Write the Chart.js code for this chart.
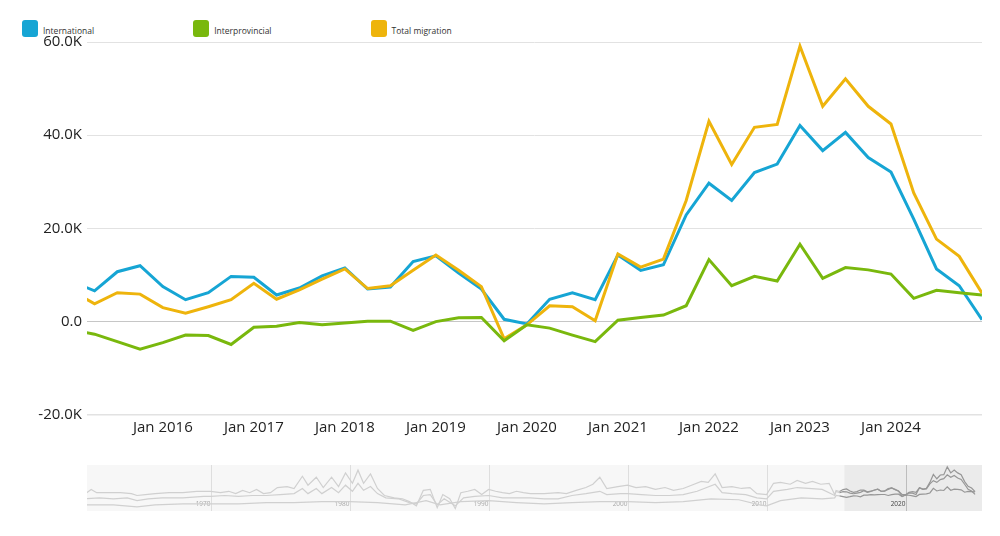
<!DOCTYPE html>
<html>
<head>
<meta charset="utf-8">
<script src="https://cdn.jsdelivr.net/npm/chart.js@4.4.1/dist/chart.umd.min.js"></script>
<style>
  html, body { margin: 0; padding: 0; background: #fff; }
  body { width: 1000px; height: 536px; position: relative; overflow: hidden; font-family: "Open Sans", sans-serif; }
  #legend { position: absolute; left: 22px; top: 20px; display: flex; align-items: flex-start; }
  .item { display: flex; align-items: flex-start; margin-right: 99px; }
  .swatch { width: 16px; height: 17px; border-radius: 3px; }
  .item span { font-size: 8.5px; color: #333; margin-left: 5px; margin-top: 5px; white-space: nowrap; }
  #main { position: absolute; left: 0; top: 0; width: 1000px; height: 450px; }
  #nav { position: absolute; left: 87px; top: 465px; width: 895px; height: 46px; }
</style>
</head>
<body>
<div id="legend"></div>
<div id="main"><canvas id="mainCanvas"></canvas></div>
<div id="nav"><canvas id="navCanvas"></canvas></div>
<script>
// quarters shown in the main view (Jan 2015 sits just left of the visible area)
const periods = [
  "2015-01", "2015-04", "2015-07", "2015-10",
  "2016-01", "2016-04", "2016-07", "2016-10",
  "2017-01", "2017-04", "2017-07", "2017-10",
  "2018-01", "2018-04", "2018-07", "2018-10",
  "2019-01", "2019-04", "2019-07", "2019-10",
  "2020-01", "2020-04", "2020-07", "2020-10",
  "2021-01", "2021-04", "2021-07", "2021-10",
  "2022-01", "2022-04", "2022-07", "2022-10",
  "2023-01", "2023-04", "2023-07", "2023-10",
  "2024-01", "2024-04", "2024-07", "2024-10",
  "2025-01"
];

// values in thousands
const international = [
  8.6, 6.6, 10.7, 12.0,
  7.5, 4.7, 6.2, 9.7,
  9.5, 5.7, 7.2, 9.8,
  11.5, 7.0, 7.4, 12.9,
  14.1, 10.4, 7.0, 0.5,
  -0.5, 4.8, 6.2, 4.7,
  14.3, 11.0, 12.2, 22.9,
  29.7, 26.0, 32.0, 33.8,
  42.1, 36.7, 40.6, 35.2,
  32.1, 22.0, 11.3, 7.7,
  0.4
];
const interprovincial = [
  -1.8, -2.7, -4.3, -5.9,
  -4.5, -2.9, -3.0, -4.9,
  -1.2, -1.0, -0.2, -0.7,
  -0.3, 0.1, 0.1, -1.9,
  0.0, 0.8, 0.9, -4.1,
  -0.7, -1.4, -2.9, -4.3,
  0.3, 0.9, 1.4, 3.4,
  13.3, 7.7, 9.7, 8.7,
  16.6, 9.3, 11.6, 11.1,
  10.2, 5.0, 6.7, 6.2,
  5.7
];
const totalMigration = [
  6.7, 3.8, 6.2, 5.9,
  3.0, 1.8, 3.2, 4.7,
  8.2, 4.8, 6.8, 9.1,
  11.3, 7.1, 7.7, 11.0,
  14.3, 11.0, 7.5, -3.7,
  -0.7, 3.4, 3.2, 0.2,
  14.5, 11.7, 13.4, 26.0,
  43.0, 33.7, 41.7, 42.3,
  59.1, 46.2, 52.1, 46.2,
  42.4, 27.6, 17.7, 14.0,
  6.1
];

const seriesNames = ["International", "Interprovincial", "Total migration"];
const seriesColors = ["#16a5d4", "#79b80d", "#eeb40c"];
const tickYears = [2016, 2017, 2018, 2019, 2020, 2021, 2022, 2023, 2024];
const yTicks = [-20, 0, 20, 40, 60];

// overview strip: earlier history, [year, value in thousands]
const navHistTotal = [
  [1961.0, 2], [1961.4, 11], [1961.8, 4], [1962.5, 4], [1963.5, 4], [1964.3, 2], [1964.7, -2],
  [1965.3, 0], [1966.0, 2], [1967.0, 4], [1968.0, 4], [1969.0, 7], [1970.0, 7], [1970.7, 4],
  [1971.3, 7], [1971.8, 2], [1972.3, 9], [1972.8, 4], [1973.3, 11], [1973.8, 2], [1974.3, 4],
  [1974.8, 15], [1975.5, 17], [1976.0, 13], [1976.6, 39], [1977.0, 20], [1977.6, 37], [1978.1, 15],
  [1978.7, 37], [1979.2, 17], [1979.7, 46], [1980.2, 24], [1980.6, 52], [1981.0, 24], [1981.5, 44],
  [1982.0, 13], [1982.5, -2], [1983.2, -7], [1983.8, -9], [1984.3, -15], [1984.8, -24], [1985.3, 9],
  [1985.8, 11], [1986.3, -28], [1986.7, 0], [1987.2, -9], [1987.6, -30], [1988.0, 4], [1988.5, 7],
  [1989.0, 11], [1989.5, 0], [1990.0, 11], [1990.5, 7], [1991.0, 4], [1991.5, 2], [1992.0, 7],
  [1992.5, 4], [1993.0, 2], [1994.0, 2], [1995.0, 4], [1995.6, 2], [1996.3, 9], [1997.0, 15],
  [1997.5, 22], [1998.0, 37], [1998.5, 13], [1999.3, 17], [2000.0, 20], [2000.6, 15], [2001.3, 17],
  [2002.0, 11], [2002.7, 15], [2003.3, 9], [2004.0, 13], [2004.6, 20], [2005.3, 28], [2005.8, 26],
  [2006.3, 44], [2006.8, 15], [2007.5, 17], [2008.2, 13], [2008.8, 15], [2009.3, 2], [2010.0, 0],
  [2010.5, 24], [2011.0, 26], [2011.7, 22], [2012.2, 30], [2012.8, 24], [2013.3, 28], [2013.9, 22],
  [2014.5, 24], [2014.9, 0]
];
const navHistInternational = [
  [1961.0, -9], [1962.0, -7], [1963.0, -9], [1964.0, -7], [1964.7, -13], [1965.5, -9], [1966.5, -7],
  [1968.0, -7], [1969.5, -4], [1970.0, -4], [1971.0, -2], [1972.0, -4], [1973.0, -2], [1974.0, -2],
  [1975.0, 0], [1976.0, 2], [1976.6, 13], [1977.0, 2], [1977.6, 13], [1978.0, 2], [1978.7, 15],
  [1979.2, 4], [1979.7, 20], [1980.2, 7], [1980.6, 24], [1981.0, 9], [1981.5, 17], [1982.0, 2],
  [1982.6, -7], [1983.5, -9], [1984.3, -17], [1984.8, -20], [1985.3, -2], [1985.8, 0], [1986.3, -22],
  [1986.8, -9], [1987.6, -24], [1988.2, -7], [1989.0, -4], [1990.0, -2], [1991.0, -7], [1992.0, -7],
  [1993.0, -7], [1994.0, -9], [1995.0, -9], [1996.0, -2], [1997.0, 2], [1998.0, 7], [1998.5, 0],
  [1999.5, 2], [2000.0, 2], [2001.0, 0], [2002.0, -2], [2003.0, -2], [2004.0, 0], [2005.0, 7],
  [2006.3, 22], [2006.8, 4], [2007.5, 2], [2008.5, 0], [2009.3, -7], [2010.0, -9], [2010.5, 7],
  [2011.5, 11], [2012.2, 15], [2013.0, 13], [2014.0, 11], [2014.9, -2]
];
const navHistInterprovincial = [
  [1961.0, -22], [1963.0, -22], [1964.7, -26], [1966.0, -22], [1968.0, -20], [1970.0, -20],
  [1972.0, -20], [1974.0, -17], [1976.0, -17], [1978.0, -15], [1980.0, -15], [1982.0, -17],
  [1984.0, -22], [1985.5, -13], [1986.5, -22], [1988.0, -15], [1990.0, -13], [1992.0, -17],
  [1994.0, -20], [1996.0, -17], [1998.0, -15], [2000.0, -15], [2002.0, -17], [2004.0, -15],
  [2006.0, -9], [2008.0, -11], [2009.5, -22], [2010.0, -24], [2011.0, -13], [2012.5, -7],
  [2014.0, -9], [2014.9, -7]
];
const navTickYears = [1970, 1980, 1990, 2000, 2010, 2020];
const navSelStart = 2015.6;

// "2015-04" -> 2015.25
function toYear(p) {
  const [y, m] = p.split("-").map(Number);
  return y + (m - 1) / 12;
}
const periodYears = periods.map(toYear);

// legend
const legendEl = document.getElementById("legend");
let legendHTML = "";
seriesNames.forEach((name, i) => {
  legendHTML += `<div class="item"><div class="swatch" style="background:${seriesColors[i]}"></div><span>${name}</span></div>`;
});
legendEl.innerHTML = legendHTML;

const mainValues = [international, interprovincial, totalMigration];
const drawOrder = [2, 0, 1]; // green on top, blue underneath

const mainChart = new Chart(document.getElementById("mainCanvas"), {
  type: "line",
  data: {
    datasets: mainValues.map((vals, i) => ({
      label: seriesNames[i],
      data: periodYears.map((x, j) => ({ x: x, y: vals[j] })),
      borderColor: seriesColors[i],
      backgroundColor: seriesColors[i],
      borderWidth: 3,
      order: drawOrder[i],
      fill: false
    }))
  },
  options: {
    responsive: true,
    maintainAspectRatio: false,
    animation: false,
    layout: { padding: { top: 42, right: 18, left: 0, bottom: 0 } },
    elements: { point: { radius: 0 }, line: { tension: 0 } },
    plugins: { legend: { display: false }, tooltip: { enabled: false } },
    scales: {
      x: {
        type: "linear",
        min: 2015.167,
        max: 2025,
        grid: { display: false, drawTicks: false },
        border: { display: false },
        afterBuildTicks: scale => { scale.ticks = tickYears.map(v => ({ value: v })); },
        afterFit: scale => { scale.height = 35.2; },
        ticks: {
          autoSkip: false,
          maxRotation: 0,
          padding: 4,
          color: "#222",
          font: { family: "Open Sans", size: 15 },
          callback: v => "Jan " + v
        }
      },
      y: {
        min: -20,
        max: 60,
        afterBuildTicks: scale => { scale.ticks = yTicks.map(v => ({ value: v })); },
        afterFit: scale => { scale.width = 87; },
        grid: {
          drawTicks: false,
          color: c => (c.tick && c.tick.value === 0) ? "#c6c6c6" : "#e2e2e2",
          lineWidth: c => (c.tick && c.tick.value === -20) ? 1.5 : 1
        },
        border: { display: false },
        ticks: {
          padding: 5,
          color: "#222",
          font: { family: "Open Sans", size: 15 },
          callback: v => v === 0 ? "0.0" : v.toFixed(1) + "K"
        }
      }
    }
  }
});

// overview strip
const navBackground = {
  id: "navBackground",
  beforeDatasetsDraw(chart) {
    const { ctx, chartArea: a, scales: { x } } = chart;
    ctx.save();
    ctx.fillStyle = "#f7f7f7";
    ctx.fillRect(a.left, a.top, a.width, a.height);
    const sx = x.getPixelForValue(navSelStart);
    ctx.fillStyle = "#ebebeb";
    ctx.fillRect(sx, a.top, a.right - sx, a.height);
    ctx.font = "6.5px 'Open Sans'";
    ctx.textAlign = "right";
    navTickYears.forEach(yr => {
      const px = Math.round(x.getPixelForValue(yr)) + 0.5;
      const inSel = yr >= navSelStart;
      ctx.strokeStyle = inSel ? "#bdbdbd" : "#dedede";
      ctx.lineWidth = 1;
      ctx.beginPath();
      ctx.moveTo(px, a.top);
      ctx.lineTo(px, a.bottom);
      ctx.stroke();
      ctx.fillStyle = inSel ? "#444" : "#a8a8a8";
      ctx.fillText(String(yr), px - 1, a.bottom - 5);
    });
    ctx.restore();
  }
};

const navHist = [navHistInternational, navHistInterprovincial, navHistTotal];
const navDatasets = mainValues.map((vals, i) => ({
  data: navHist[i].map(p => ({ x: p[0], y: p[1] }))
    .concat(periodYears.map((x, j) => ({ x: x, y: vals[j] }))),
  borderWidth: 1.2,
  borderColor: "#d0d0d0",
  segment: {
    borderColor: c => c.p0.parsed.x >= navSelStart - 0.5 ? "#979797" : "#d0d0d0"
  },
  fill: false
}));

new Chart(document.getElementById("navCanvas"), {
  type: "line",
  data: { datasets: navDatasets },
  options: {
    responsive: true,
    maintainAspectRatio: false,
    animation: false,
    layout: { padding: 0 },
    elements: { point: { radius: 0 }, line: { tension: 0 } },
    plugins: { legend: { display: false }, tooltip: { enabled: false } },
    scales: {
      x: { type: "linear", display: false, min: 1961.1, max: 2025.5 },
      y: { display: false, min: -35, max: 63 }
    }
  },
  plugins: [navBackground]
});
</script>
</body>
</html>
